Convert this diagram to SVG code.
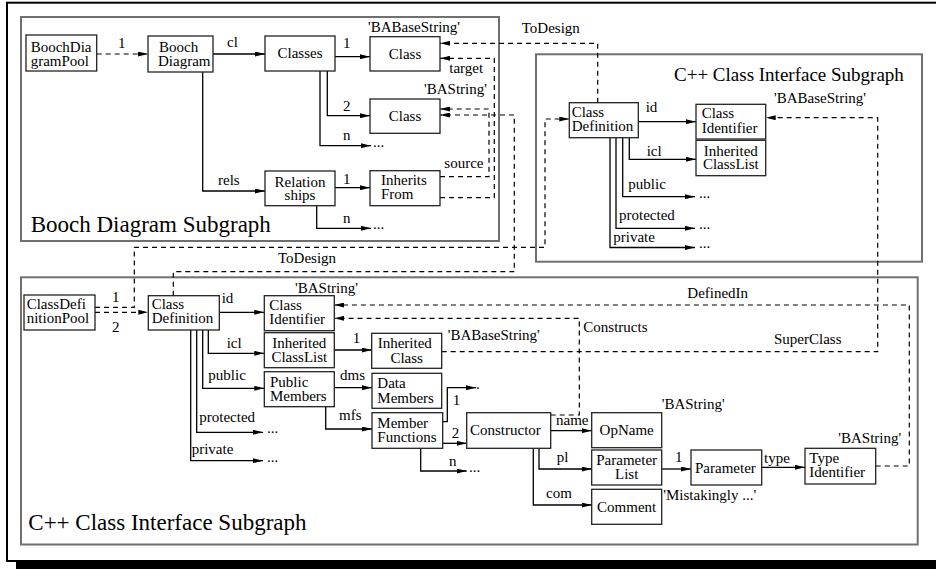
<svg xmlns="http://www.w3.org/2000/svg" width="936" height="569" viewBox="0 0 936 569">
<defs>
<marker id="ah" markerUnits="userSpaceOnUse" markerWidth="10" markerHeight="5" refX="10" refY="2.5" orient="auto">
<path d="M0,0 L10,2.5 L0,5 z" fill="#000"/>
</marker>
<style>
text{font-family:"Liberation Serif","Times New Roman",serif;font-size:15px;fill:#000}
.t{font-size:23px}
.t2{font-size:19px}
.m{text-anchor:middle}
.node{fill:#fff;stroke:#222;stroke-width:1.3}
.sub{fill:none;stroke:#707070;stroke-width:2}
.c{fill:none;stroke:#000;stroke-width:1.3;marker-end:url(#ah)}
.d{fill:none;stroke:#000;stroke-width:1.2;stroke-dasharray:5 4}
.da{fill:none;stroke:#000;stroke-width:1.2;stroke-dasharray:5 4;marker-end:url(#ah)}
</style>
</defs>
<rect x="0" y="0" width="936" height="569" fill="#fff"/>
<rect x="7" y="2.7" width="940" height="558.3" fill="none" stroke="#000" stroke-width="2"/>
<rect x="16" y="561" width="920" height="8" fill="#000"/>

<g id="booch-subgraph">
<rect class="sub" x="21" y="17" width="478" height="224"/>
<text class="t" x="30.7" y="232">Booch Diagram Subgraph</text>
</g>
<g id="cpp-subgraph-upper">
<rect class="sub" x="536" y="54.3" width="386" height="207.4"/>
<text class="t2" x="674" y="81">C++ Class Interface Subgraph</text>
</g>
<g id="cpp-subgraph-lower">
<rect class="sub" x="21" y="277.3" width="896.7" height="267.2"/>
<text class="t" x="28.3" y="530">C++ Class Interface Subgraph</text>
</g>

<g id="connectors">
<!-- Booch solid -->
<path class="c" d="M213,54 H265"/>
<path class="c" d="M202.7,72 V191 H265"/>
<path class="c" d="M335,56.7 H370"/>
<path class="c" d="M327.3,71 V115.7 H370"/>
<path class="c" d="M320,71 V145.7 H371"/>
<path class="c" d="M335,187.7 H370"/>
<path class="c" d="M316.7,205.7 V228.3 H371"/>
<!-- upper C++ solid -->
<path class="c" d="M638.3,121.7 H696"/>
<path class="c" d="M629.3,137.7 V159.3 H696"/>
<path class="c" d="M622.7,137.7 V196.7 H695"/>
<path class="c" d="M616,137.7 V228.3 H695"/>
<path class="c" d="M610,137.7 V247.5 H695"/>
<!-- lower C++ solid -->
<path class="c" d="M219.3,312.3 H264.3"/>
<path class="c" d="M208.3,330 V353.3 H264.3"/>
<path class="c" d="M202.7,330 V388.3 H264.3"/>
<path class="c" d="M196.7,330 V432.3 H263"/>
<path class="c" d="M190.7,330 V460.7 H263"/>
<path class="c" d="M334.3,350 H371.7"/>
<path class="c" d="M334.3,387.7 H372"/>
<path class="c" d="M325.7,406.7 V429 H372"/>
<path class="c" d="M442.7,421.7 H447.3 V387.7 H476"/>
<path class="c" d="M442.7,443.3 H466.7"/>
<path class="c" d="M420.7,448.3 V471 H466.7"/>
<path class="c" d="M550.7,430.7 H591.7"/>
<path class="c" d="M539,448.3 V469 H591.7"/>
<path class="c" d="M533.3,448.3 V505 H591.7"/>
<path class="c" d="M661.7,469 H691"/>
<path class="c" d="M761.7,467.3 H805"/>
<!-- dashed -->
<path class="da" d="M96.7,54 H148"/>
<path class="da" d="M597.7,102.7 V43.3 H440"/>
<path class="da" d="M440,197.7 H494.3 V58.3 H440"/>
<path class="da" d="M440,176.7 H489 V109 H440"/>
<path class="da" d="M173.3,295.7 V271.7 H514.3 V115 H440"/>
<path class="da" d="M95,307.3 H134.3 V247.3 H545 V119 H569.3"/>
<path class="da" d="M95,312.3 H148.3"/>
<path class="da" d="M441.7,351.7 H877.7 V117.7 H765.7"/>
<path class="da" d="M550.7,415 H579.3 V318.3 H334.3"/>
<path class="da" d="M875.7,466 H909.3 V305 H334.3"/>
</g>

<g id="edge-labels">
<text x="118" y="48">1</text>
<text x="227" y="47">cl</text>
<text x="218" y="185">rels</text>
<text x="343" y="48">1</text>
<text x="343" y="110.7">2</text>
<text x="343" y="140">n</text>
<text x="373" y="146.5">...</text>
<text x="343" y="184">1</text>
<text x="343" y="223">n</text>
<text x="373" y="229">...</text>
<text x="368" y="32">'BABaseString'</text>
<text x="424" y="94.3">'BAString'</text>
<text x="449.3" y="72.7">target</text>
<text x="444.3" y="168.3">source</text>
<text x="521.7" y="33">ToDesign</text>
<text x="645.7" y="111.7">id</text>
<text x="646.7" y="155.7">icl</text>
<text x="628.3" y="189">public</text>
<text x="699" y="197.5">...</text>
<text x="619" y="220">protected</text>
<text x="699" y="229">...</text>
<text x="613.3" y="242">private</text>
<text x="699" y="248.3">...</text>
<text x="774" y="102.7">'BABaseString'</text>
<text x="112" y="301.7">1</text>
<text x="112" y="331.7">2</text>
<text x="278" y="263.3">ToDesign</text>
<text x="221.7" y="303.3">id</text>
<text x="226.7" y="348.3">icl</text>
<text x="208.3" y="380">public</text>
<text x="199.3" y="421.7">protected</text>
<text x="267" y="433">...</text>
<text x="191.7" y="454.3">private</text>
<text x="267" y="461.5">...</text>
<text x="295" y="293.3">'BAString'</text>
<text x="352.7" y="343.3">1</text>
<text x="447.7" y="340">'BABaseString'</text>
<text x="340" y="380">dms</text>
<text x="339" y="420">mfs</text>
<text x="452.7" y="405">1</text>
<text x="476" y="388.5">.</text>
<text x="451.7" y="438.3">2</text>
<text x="449" y="466">n</text>
<text x="469" y="472">...</text>
<text x="556" y="425">name</text>
<text x="583.3" y="332">Constructs</text>
<text x="687.3" y="298.3">DefinedIn</text>
<text x="774" y="344">SuperClass</text>
<text x="661.7" y="409.3">'BAString'</text>
<text x="556.7" y="461.7">pl</text>
<text x="546" y="498.3">com</text>
<text x="663.3" y="500">'Mistakingly ...'</text>
<text x="675" y="461.7">1</text>
<text x="764" y="463.3">type</text>
<text x="838.3" y="443.3">'BAString'</text>
</g>

<g id="n-BoochDiagramPool"><rect class="node" x="26" y="35" width="70.7" height="36"/><text x="30.7" y="52">BoochDia</text><text x="30.7" y="65.5">gramPool</text></g>
<g id="n-BoochDiagram"><rect class="node" x="148" y="36" width="65" height="36"/><text x="159" y="52">Booch</text><text x="158" y="65.5">Diagram</text></g>
<g id="n-Classes"><rect class="node" x="265" y="36" width="70" height="35"/><text class="m" x="300" y="58">Classes</text></g>
<g id="n-Class1"><rect class="node" x="370" y="36.7" width="70" height="34.3"/><text class="m" x="405" y="58.5">Class</text></g>
<g id="n-Class2"><rect class="node" x="370" y="99" width="70" height="34.3"/><text class="m" x="405" y="120.7">Class</text></g>
<g id="n-Relationships"><rect class="node" x="265" y="171" width="70" height="34.7"/><text class="m" x="300" y="186.7">Relation</text><text class="m" x="300" y="199.5">ships</text></g>
<g id="n-InheritsFrom"><rect class="node" x="370" y="170.7" width="70" height="35"/><text x="381" y="185">Inherits</text><text x="381" y="199">From</text></g>

<g id="n-ClassDefinitionU"><rect class="node" x="569.3" y="102.7" width="69" height="35"/><text x="571.7" y="117">Class</text><text x="571.7" y="131">Definition</text></g>
<g id="n-ClassIdentifierU"><rect class="node" x="696" y="104.3" width="69.7" height="34.7"/><text x="701.7" y="118.3">Class</text><text x="701.7" y="132.7">Identifier</text></g>
<g id="n-InheritedClassListU"><rect class="node" x="696" y="140.3" width="69.7" height="35.4"/><text class="m" x="730.8" y="155.7">Inherited</text><text class="m" x="730.8" y="169.3">ClassList</text></g>

<g id="n-ClassDefinitionPool"><rect class="node" x="24" y="295" width="71" height="35"/><text x="26.7" y="309">ClassDefi</text><text x="26.7" y="323.3">nitionPool</text></g>
<g id="n-ClassDefinitionL"><rect class="node" x="148.3" y="295.7" width="71" height="34.3"/><text x="151.7" y="309">Class</text><text x="151.7" y="323.3">Definition</text></g>
<g id="n-ClassIdentifierL"><rect class="node" x="264.3" y="295.7" width="70" height="35"/><text x="269.3" y="310">Class</text><text x="269.3" y="324">Identifier</text></g>
<g id="n-InheritedClassListL"><rect class="node" x="264.3" y="332.7" width="70" height="35"/><text class="m" x="299.3" y="348.3">Inherited</text><text class="m" x="299.3" y="361.7">ClassList</text></g>
<g id="n-PublicMembers"><rect class="node" x="264.3" y="371.7" width="70" height="35"/><text x="270" y="386.7">Public</text><text x="270" y="400.7">Members</text></g>
<g id="n-InheritedClass"><rect class="node" x="371.7" y="333.3" width="70" height="35"/><text x="377.7" y="348.3">Inherited</text><text class="m" x="406.7" y="362.7">Class</text></g>
<g id="n-DataMembers"><rect class="node" x="372" y="373.3" width="69.7" height="35"/><text x="377.3" y="388.3">Data</text><text x="377.3" y="403.3">Members</text></g>
<g id="n-MemberFunctions"><rect class="node" x="372" y="412.7" width="70.7" height="35.6"/><text x="377.3" y="427.7">Member</text><text x="377.3" y="441.7">Functions</text></g>
<g id="n-Constructor"><rect class="node" x="466.7" y="412.7" width="84" height="35.6"/><text x="470" y="435">Constructor</text></g>
<g id="n-OpName"><rect class="node" x="591.7" y="412.7" width="70" height="35"/><text class="m" x="626.7" y="435">OpName</text></g>
<g id="n-ParameterList"><rect class="node" x="591.7" y="450" width="70" height="35"/><text class="m" x="626.7" y="465">Parameter</text><text class="m" x="626.7" y="479.3">List</text></g>
<g id="n-Comment"><rect class="node" x="591.7" y="489.3" width="70" height="35"/><text class="m" x="626.7" y="511.7">Comment</text></g>
<g id="n-Parameter"><rect class="node" x="691" y="450" width="70.7" height="35"/><text x="695" y="473.3">Parameter</text></g>
<g id="n-TypeIdentifier"><rect class="node" x="805" y="448.3" width="70.7" height="35.7"/><text x="809.3" y="463.3">Type</text><text x="809.3" y="476.7">Identifier</text></g>
</svg>
